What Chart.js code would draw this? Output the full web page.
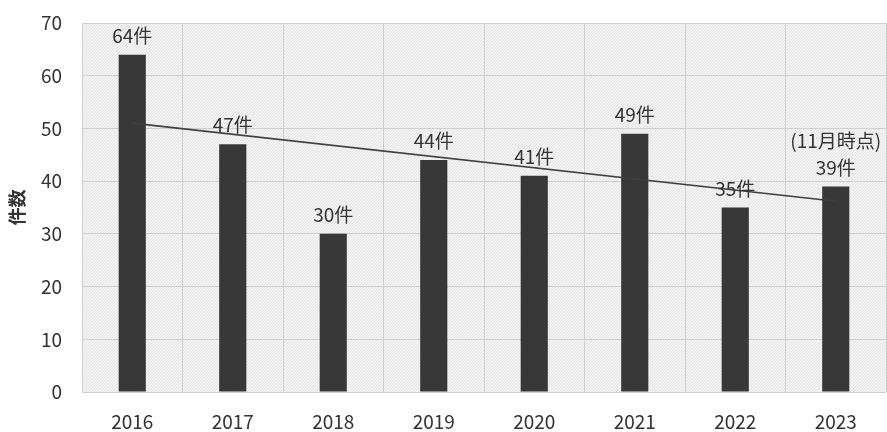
<!DOCTYPE html>
<html>
<head>
<meta charset="utf-8">
<script src="https://cdn.jsdelivr.net/npm/chart.js@4/dist/chart.umd.min.js"></script>
<style>
  html, body { margin: 0; padding: 0; background: #fff; }
  #wrap { width: 887px; height: 432px; }
</style>
</head>
<body>
<div id="wrap"><canvas id="countChart" width="887" height="432"></canvas></div>
<script>
var years = ['2016', '2017', '2018', '2019', '2020', '2021', '2022', '2023'];
var counts = [64, 47, 30, 44, 41, 49, 35, 39];
// trend line end points, first and last year only
var trend = [51.0, null, null, null, null, null, null, 36.2];
var notes = ['', '', '', '', '', '', '', '(11月時点)'];
var yTicks = [0, 10, 20, 30, 40, 50, 60, 70];

var fontName = '"Noto Sans CJK JP", "Noto Sans", sans-serif';

// fine diagonal texture for the plot background
function makePattern(ctx) {
  var p = document.createElement('canvas');
  p.width = 3; p.height = 3;
  var c = p.getContext('2d');
  c.fillStyle = '#f3f3f3';
  c.fillRect(0, 0, 3, 3);
  c.fillStyle = '#e4e4e4';
  c.fillRect(0, 2, 1, 1);
  c.fillRect(1, 1, 1, 1);
  c.fillRect(2, 0, 1, 1);
  return ctx.createPattern(p, 'repeat');
}

var plotBg = {
  id: 'plotBg',
  beforeDraw: function(chart) {
    var a = chart.chartArea, ctx = chart.ctx;
    ctx.save();
    ctx.fillStyle = makePattern(ctx);
    ctx.fillRect(a.left, a.top, a.right - a.left, a.bottom - a.top);
    ctx.restore();
  }
};

var valueLabels = {
  id: 'valueLabels',
  afterDatasetsDraw: function(chart) {
    var ctx = chart.ctx;
    var meta = chart.getDatasetMeta(1);
    ctx.save();
    ctx.font = '19px ' + fontName;
    ctx.fillStyle = '#333';
    ctx.textAlign = 'center';
    ctx.textBaseline = 'middle';
    meta.data.forEach(function(bar, i) {
      ctx.fillText(counts[i] + '件', bar.x, bar.y - 19);
      if (notes[i]) ctx.fillText(notes[i], bar.x, bar.y - 46);
    });
    ctx.restore();
  }
};

new Chart(document.getElementById('countChart').getContext('2d'), {
  type: 'bar',
  data: {
    labels: years,
    datasets: [{
      type: 'line',
      data: trend,
      spanGaps: true,
      borderColor: '#404040',
      borderWidth: 1.6,
      pointRadius: 0,
      order: 0
    }, {
      data: counts,
      backgroundColor: '#383838',
      barPercentage: 0.27,
      categoryPercentage: 1.0,
      order: 1
    }]
  },
  options: {
    responsive: false,
    animation: false,
    layout: { autoPadding: false, padding: { top: 23, right: 1, left: 0, bottom: 0 } },
    plugins: {
      legend: { display: false },
      tooltip: { enabled: false }
    },
    scales: {
      x: {
        grid: { color: '#cfcfcf', drawTicks: false },
        border: { display: false },
        ticks: { color: '#333', font: { family: fontName, size: 19 }, padding: 18 },
        afterFit: function(s) {
          s.height = 40;
          s.paddingLeft = 0;
          s.paddingRight = 0;
        }
      },
      y: {
        min: 0,
        max: 70,
        afterBuildTicks: function(s) { s.ticks = yTicks.map(function(v) { return { value: v }; }); },
        grid: { color: '#cfcfcf', drawTicks: false },
        border: { display: false },
        ticks: { color: '#333', font: { family: fontName, size: 19 }, padding: 20 },
        title: {
          display: true,
          text: '件数',
          color: '#333',
          font: { family: fontName, size: 18, weight: 'bold' },
          padding: 6
        },
        afterFit: function(s) {
          s.width = 82;
          s.paddingTop = 0;
          s.paddingBottom = 0;
        }
      }
    }
  },
  plugins: [plotBg, valueLabels]
});
</script>
</body>
</html>
